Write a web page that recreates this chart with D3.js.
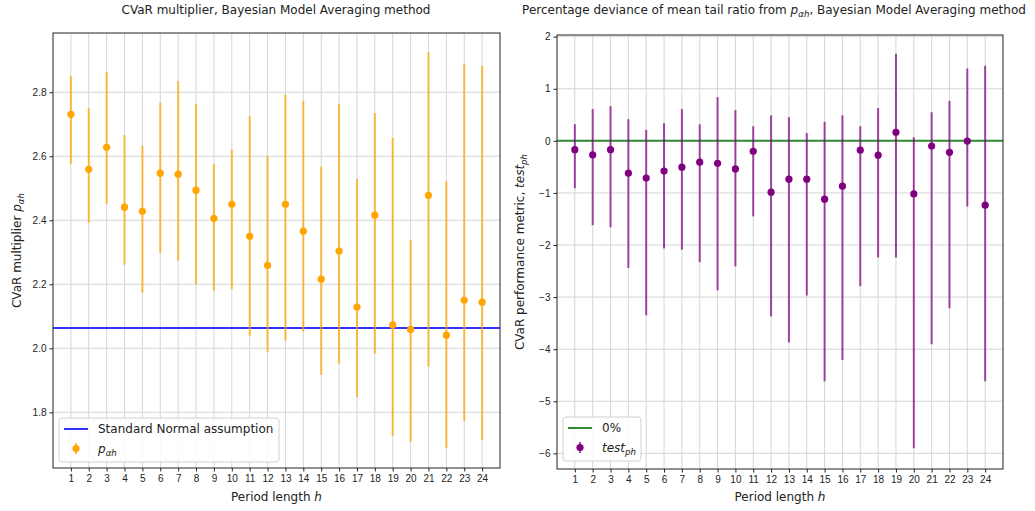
<!DOCTYPE html>
<html>
<head>
<meta charset="utf-8">
<script src="https://cdn.jsdelivr.net/npm/d3@7"></script>
<style>
  body { margin: 0; background: #fff; }
  svg { font-family: "DejaVu Sans", sans-serif; }
  .grid line { stroke: #d6d6d6; stroke-width: 1; }
  .tick text { fill: #222; font-size: 10px; }
</style>
</head>
<body>
<svg id="chart" width="1035" height="511"></svg>
<script>
// period lengths h = 1..24
const periods = d3.range(1, 25);

// left panel: CVaR multiplier p_ah with interval bounds
const pMean = [2.731, 2.559, 2.628, 2.441, 2.428, 2.547, 2.544, 2.494, 2.406, 2.450, 2.350, 2.259,
               2.450, 2.366, 2.216, 2.304, 2.129, 2.416, 2.073, 2.059, 2.478, 2.041, 2.150, 2.144];
const pLow  = [2.576, 2.392, 2.451, 2.261, 2.174, 2.298, 2.274, 2.199, 2.180, 2.185, 2.039, 1.989,
               2.024, 2.052, 1.917, 1.952, 1.848, 1.983, 1.727, 1.707, 1.943, 1.689, 1.773, 1.714];
const pHigh = [2.851, 2.750, 2.863, 2.666, 2.632, 2.767, 2.835, 2.764, 2.576, 2.620, 2.726, 2.601,
               2.792, 2.773, 2.567, 2.763, 2.529, 2.735, 2.657, 2.338, 2.926, 2.522, 2.888, 2.882];
const normalRef = 2.063;

// right panel: test_ph with interval bounds
const tMean = [-0.17, -0.27, -0.17, -0.62, -0.715, -0.58, -0.505, -0.41, -0.43, -0.54, -0.20, -0.985,
               -0.735, -0.735, -1.12, -0.87, -0.18, -0.275, 0.165, -1.02, -0.10, -0.22, -0.005, -1.235];
const tLow  = [-0.91, -1.62, -1.66, -2.44, -3.35, -2.065, -2.09, -2.33, -2.87, -2.41, -1.45, -3.37,
               -3.87, -2.97, -4.615, -4.21, -2.79, -2.24, -2.24, -5.90, -3.905, -3.215, -1.26, -4.615];
const tHigh = [0.32, 0.61, 0.665, 0.416, 0.21, 0.34, 0.61, 0.32, 0.84, 0.59, 0.28, 0.49,
               0.455, 0.148, 0.365, 0.49, 0.28, 0.63, 1.67, 0.07, 0.55, 0.767, 1.39, 1.44];

const leftTicks = [1.8, 2.0, 2.2, 2.4, 2.6, 2.8];
const rightTicks = [-6, -5, -4, -3, -2, -1, 0, 1, 2];

const svg = d3.select('#chart');

function panel(opt) {
  const g = svg.append('g');
  const x = d3.scaleLinear().domain([0, 25]).range([opt.x0, opt.x1]);
  const y = d3.scaleLinear().domain(opt.ydom).range([opt.y1, opt.y0]);

  // grid
  const grid = g.append('g').attr('class', 'grid');
  grid.selectAll('.gx').data(periods).enter().append('line')
    .attr('x1', d => x(d)).attr('x2', d => x(d)).attr('y1', opt.y0).attr('y2', opt.y1);
  grid.selectAll('.gy').data(opt.ticks).enter().append('line')
    .attr('x1', opt.x0).attr('x2', opt.x1).attr('y1', d => y(d)).attr('y2', d => y(d));

  // reference line
  g.append('line')
    .attr('x1', opt.x0).attr('x2', opt.x1)
    .attr('y1', y(opt.ref)).attr('y2', y(opt.ref))
    .attr('stroke', opt.refColor).attr('stroke-width', 2);

  // error bars
  g.selectAll('.err').data(periods).enter().append('line')
    .attr('x1', d => x(d)).attr('x2', d => x(d))
    .attr('y1', (d, i) => y(opt.low[i])).attr('y2', (d, i) => y(opt.high[i]))
    .attr('stroke', opt.color).attr('stroke-opacity', 0.72).attr('stroke-width', 2);
  g.selectAll('.pt').data(periods).enter().append('circle')
    .attr('cx', d => x(d)).attr('cy', (d, i) => y(opt.mean[i]))
    .attr('r', 3.6).attr('fill', opt.color);

  // axes
  const xa = g.append('g').attr('transform', `translate(0,${opt.y1})`)
    .call(d3.axisBottom(x).tickValues(periods).tickSize(3.5).tickPadding(3));
  const ya = g.append('g').attr('transform', `translate(${opt.x0},0)`)
    .call(d3.axisLeft(y).tickValues(opt.ticks).tickSize(3.5).tickPadding(3)
      .tickFormat(opt.fmt));
  [xa, ya].forEach(a => { a.select('.domain').remove(); a.selectAll('line').attr('stroke', '#222'); });
  g.append('rect').attr('x', opt.x0).attr('y', opt.y0)
    .attr('width', opt.x1 - opt.x0).attr('height', opt.y1 - opt.y0)
    .attr('fill', 'none').attr('stroke', '#222').attr('stroke-width', 1);

  // title
  const t = g.append('text').attr('x', opt.titleX).attr('y', 14)
    .attr('text-anchor', 'middle').attr('font-size', 12).attr('fill', '#222');
  opt.title(t);

  // x label
  const xl = g.append('text').attr('x', (opt.x0 + opt.x1) / 2).attr('y', 501)
    .attr('text-anchor', 'middle').attr('font-size', 12).attr('fill', '#222');
  xl.append('tspan').text('Period length ');
  xl.append('tspan').attr('font-style', 'italic').text('h');

  // y label
  const yl = g.append('text')
    .attr('transform', `translate(${opt.ylabelX},${(opt.y0 + opt.y1) / 2}) rotate(-90)`)
    .attr('text-anchor', 'middle').attr('font-size', 12).attr('fill', '#222');
  opt.ylabel(yl);

  // legend
  const L = opt.legend;
  const lg = g.append('g');
  lg.append('rect').attr('x', L.x).attr('y', L.y).attr('width', L.w).attr('height', 44)
    .attr('rx', 3).attr('fill', 'white').attr('fill-opacity', 0.85)
    .attr('stroke', '#d0d0d0');
  lg.append('line').attr('x1', L.x + 5).attr('x2', L.x + 29)
    .attr('y1', L.y + 11).attr('y2', L.y + 11)
    .attr('stroke', opt.refColor).attr('stroke-width', 2);
  lg.append('line').attr('x1', L.x + 17).attr('x2', L.x + 17)
    .attr('y1', L.y + 25).attr('y2', L.y + 36)
    .attr('stroke', opt.color).attr('stroke-opacity', 0.72).attr('stroke-width', 2);
  lg.append('circle').attr('cx', L.x + 17).attr('cy', L.y + 30.5).attr('r', 3.6).attr('fill', opt.color);
  lg.append('text').attr('x', L.x + 39).attr('y', L.y + 15).attr('font-size', 12).attr('fill', '#222')
    .text(L.refText);
  const lt = lg.append('text').attr('x', L.x + 39).attr('y', L.y + 35).attr('font-size', 12).attr('fill', '#222');
  L.seriesText(lt);
}

function sub(sel, base, s) {
  sel.append('tspan').attr('font-style', 'italic').text(base);
  sel.append('tspan').attr('font-style', 'italic').attr('font-size', '0.72em')
    .attr('dy', 3).text(s);
}

panel({
  x0: 53, x1: 500, y0: 33, y1: 468, ydom: [1.626, 2.985],
  ticks: leftTicks, fmt: d3.format('.1f'),
  mean: pMean, low: pLow, high: pHigh,
  color: 'orange', ref: normalRef, refColor: '#3333ff',
  titleX: 276, ylabelX: 21,
  title: t => t.text('CVaR multiplier, Bayesian Model Averaging method'),
  ylabel: t => { t.append('tspan').text('CVaR multiplier '); sub(t, 'p', 'αh'); },
  legend: {
    x: 59, y: 418, w: 220, refText: 'Standard Normal assumption',
    seriesText: t => sub(t, 'p', 'αh')
  }
});

panel({
  x0: 557, x1: 1003, y0: 35, y1: 469, ydom: [-6.3, 2.032],
  ticks: rightTicks, fmt: d => d < 0 ? '\u2212' + Math.abs(d) : d,
  mean: tMean, low: tLow, high: tHigh,
  color: 'purple', ref: 0, refColor: '#2e8b2e',
  titleX: 774, ylabelX: 524,
  title: t => {
    t.append('tspan').text('Percentage deviance of mean tail ratio from ');
    sub(t, 'p', 'αh');
    t.append('tspan').attr('dy', -3).text(', Bayesian Model Averaging method');
  },
  ylabel: t => { t.append('tspan').text('CVaR performance metric, '); sub(t, 'test', 'ph'); },
  legend: {
    x: 563, y: 417, w: 78, refText: '0%',
    seriesText: t => sub(t, 'test', 'ph')
  }
});
</script>
</body>
</html>
